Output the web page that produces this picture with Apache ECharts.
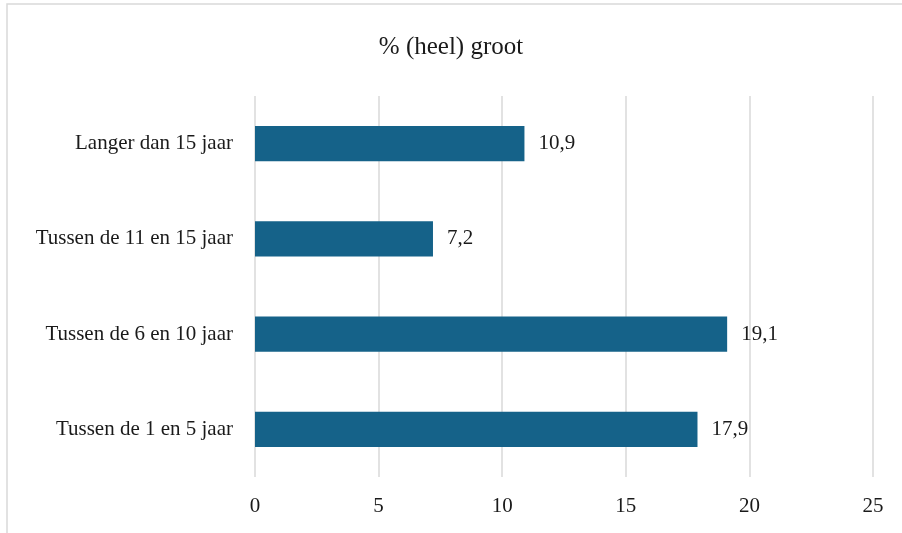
<!DOCTYPE html>
<html><head><meta charset="utf-8">
<script src="https://cdn.jsdelivr.net/npm/echarts@6/dist/echarts.min.js"></script>
<style>html,body{margin:0;padding:0;background:#fff}#c{width:902px;height:533px}</style>
</head><body><div id="c"></div>
<script>
const categories = ['Tussen de 1 en 5 jaar', 'Tussen de 6 en 10 jaar', 'Tussen de 11 en 15 jaar', 'Langer dan 15 jaar'];
const values = [17.9, 19.1, 7.2, 10.9];
const titleText = '% (heel) groot';
const font = '"Liberation Serif", "DejaVu Serif", serif';
const chart = echarts.init(document.getElementById('c'));
chart.setOption({
  animation: false,
  textStyle: { fontFamily: font },
  graphic: [{ type: 'rect', shape: { x: 7, y: 4, width: 1000, height: 1000 }, style: { fill: 'none', stroke: '#d9d9d9', lineWidth: 1.5 }, silent: true }],
  title: { text: titleText, left: 'center', top: 30, textStyle: { fontFamily: font, fontSize: 25, fontWeight: 'normal', color: '#1a1a1a' } },
  grid: { left: 255, right: 29, top: 96, bottom: 56, containLabel: false },
  xAxis: {
    type: 'value', min: 0, max: 25, interval: 5,
    axisLine: { show: false }, axisTick: { show: false },
    axisLabel: { fontFamily: font, fontSize: 21, color: '#1a1a1a', margin: 19 },
    splitLine: { lineStyle: { color: '#d9d9d9', width: 1.5 } }
  },
  yAxis: {
    type: 'category', data: categories,
    axisLine: { show: false }, axisTick: { show: false },
    axisLabel: { fontFamily: font, fontSize: 21, color: '#1a1a1a', margin: 22 }
  },
  series: [{
    type: 'bar', data: values, barWidth: '37%',
    itemStyle: { color: '#156289' },
    label: { show: true, position: 'right', distance: 14, fontFamily: font, fontSize: 21, color: '#1a1a1a',
      formatter: p => String(p.value).replace('.', ',') }
  }]
});
</script></body></html>
